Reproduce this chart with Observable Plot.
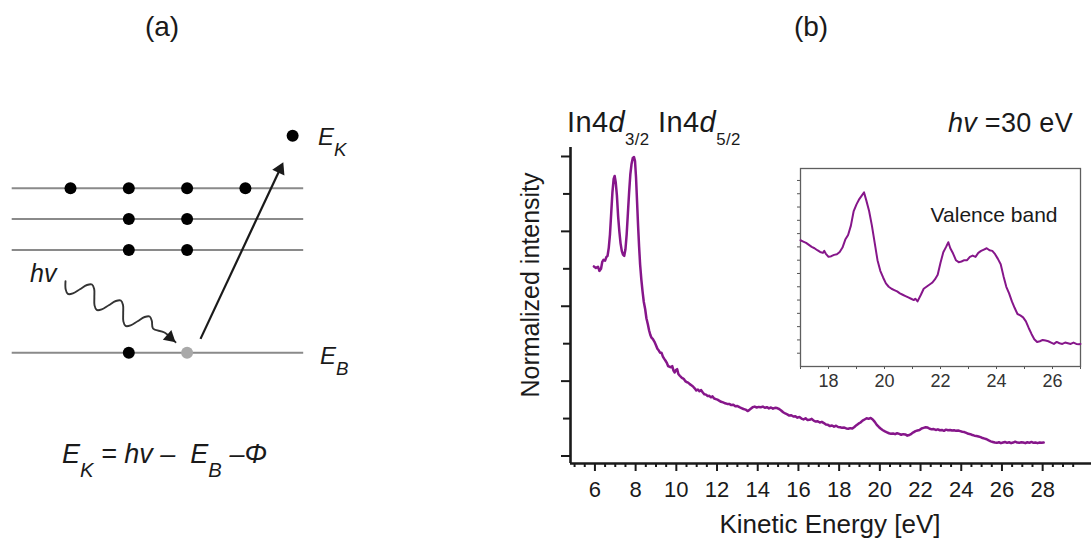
<!DOCTYPE html>
<html>
<head>
<meta charset="utf-8">
<script src="https://cdn.jsdelivr.net/npm/d3@7"></script>
<script src="https://cdn.jsdelivr.net/npm/@observablehq/plot@0.6"></script>
<style>
  html, body { margin: 0; padding: 0; background: #fff; }
  #fig { position: relative; width: 1091px; height: 540px; overflow: hidden;
         font-family: "Liberation Sans", Arial, sans-serif; color: #1a1a1a; }
  #fig svg { position: absolute; overflow: visible; }
  .lbl { position: absolute; white-space: nowrap; line-height: 1; }
  .sub { position: relative; }
</style>
</head>
<body>
<div id="fig"></div>
<script>
// ---------- Photoemission spectrum, hv = 30 eV (kinetic energy [eV], normalized intensity) ----------
const mainSpectrum = [
  [5.95,.633],[6.05,.628],[6.15,.632],[6.22,.618],[6.30,.625],[6.36,.648],[6.42,.655],[6.50,.652],
  [6.56,.664],[6.62,.668],[6.68,.695],[6.74,.740],[6.80,.810],[6.86,.880],[6.92,.925],[6.97,.935],
  [7.02,.915],[7.08,.870],[7.14,.800],[7.20,.750],[7.26,.710],[7.32,.685],[7.38,.672],[7.44,.668],
  [7.50,.690],[7.56,.740],[7.62,.810],[7.68,.880],[7.74,.940],[7.80,.975],[7.86,.995],[7.92,.998],
  [7.97,.985],[8.02,.930],[8.07,.850],[8.12,.770],[8.17,.700],[8.22,.640],[8.28,.590],[8.34,.550],
  [8.40,.515],[8.47,.490],[8.53,.460],[8.60,.440],[8.66,.420],[8.72,.405],[8.78,.395],[8.85,.390],
  [8.92,.382],[9.00,.370],[9.07,.358],[9.14,.352],[9.20,.345],[9.27,.345],[9.34,.332],[9.40,.325],
  [9.47,.318],[9.54,.310],[9.60,.300],[9.67,.298],[9.74,.296],[9.80,.300],[9.86,.285],[9.92,.279],
  [9.98,.287],[10.04,.290],[10.10,.274],[10.17,.268],[10.24,.263],[10.30,.260],[10.37,.257],[10.44,.250],
  [10.50,.247],[10.58,.245],[10.66,.240],[10.74,.236],[10.82,.232],[10.90,.226],[10.98,.219],[11.06,.222],
  [11.14,.216],[11.22,.220],[11.30,.212],[11.38,.206],[11.46,.205],[11.54,.200],[11.62,.201],[11.70,.196],
  [11.78,.199],[11.86,.192],[11.94,.190],[12.02,.188],[12.10,.185],[12.20,.181],[12.30,.179],[12.40,.176],
  [12.50,.174],[12.60,.174],[12.70,.170],[12.80,.171],[12.90,.166],[13.00,.167],[13.10,.163],[13.20,.160],
  [13.30,.157],[13.40,.155],[13.50,.150],[13.58,.153],[13.66,.158],[13.75,.163],[13.85,.165],[13.95,.162],
  [14.05,.164],[14.15,.163],[14.25,.165],[14.35,.161],[14.45,.163],[14.55,.159],[14.65,.162],[14.75,.158],
  [14.85,.161],[14.95,.160],[15.05,.157],[15.15,.152],[15.25,.146],[15.35,.142],[15.45,.139],[15.55,.135],
  [15.65,.136],[15.75,.132],[15.85,.133],[15.95,.128],[16.05,.130],[16.15,.125],[16.25,.122],[16.35,.126],
  [16.45,.120],[16.55,.121],[16.65,.124],[16.75,.118],[16.85,.115],[16.95,.116],[17.05,.112],[17.15,.114],
  [17.25,.110],[17.35,.105],[17.45,.104],[17.55,.100],[17.65,.102],[17.75,.098],[17.85,.101],[17.95,.097],
  [18.05,.096],[18.15,.094],[18.25,.095],[18.35,.092],[18.45,.091],[18.55,.093],[18.65,.092],[18.75,.097],
  [18.85,.103],[18.95,.108],[19.05,.112],[19.15,.118],[19.25,.122],[19.35,.126],[19.45,.124],[19.55,.127],
  [19.65,.122],[19.75,.114],[19.85,.104],[19.95,.097],[20.05,.091],[20.15,.086],[20.25,.082],[20.35,.079],
  [20.45,.076],[20.55,.074],[20.65,.075],[20.75,.073],[20.85,.076],[20.95,.074],[21.05,.071],[21.15,.073],
  [21.25,.072],[21.35,.068],[21.45,.070],[21.55,.074],[21.65,.079],[21.75,.083],[21.85,.085],[21.95,.087],
  [22.05,.092],[22.15,.094],[22.25,.096],[22.35,.095],[22.45,.091],[22.55,.089],[22.65,.090],[22.75,.087],
  [22.85,.089],[22.95,.086],[23.05,.087],[23.15,.084],[23.25,.088],[23.35,.086],[23.45,.087],[23.55,.085],
  [23.65,.086],[23.75,.084],[23.85,.085],[23.95,.083],[24.05,.081],[24.15,.080],[24.25,.077],[24.35,.074],
  [24.45,.073],[24.55,.070],[24.65,.068],[24.75,.067],[24.85,.065],[24.95,.063],[25.05,.060],[25.15,.058],
  [25.25,.056],[25.35,.052],[25.45,.049],[25.55,.047],[25.65,.045],[25.75,.044],[25.85,.046],[25.95,.043],
  [26.05,.045],[26.15,.047],[26.25,.044],[26.35,.046],[26.45,.043],[26.55,.045],[26.65,.048],[26.75,.045],
  [26.85,.044],[26.95,.046],[27.05,.045],[27.15,.043],[27.25,.046],[27.35,.044],[27.45,.047],[27.55,.044],
  [27.65,.045],[27.75,.043],[27.85,.045],[27.95,.044],[28.05,.045]
];

// ---------- Valence band detail (inset) ----------
const valenceSpectrum = [
  [17.00,.950],[17.10,.940],[17.20,.930],[17.30,.915],[17.40,.900],[17.50,.890],[17.60,.875],[17.70,.862],
  [17.80,.855],[17.85,.870],[17.90,.850],[18.00,.825],[18.10,.830],[18.20,.840],[18.30,.845],[18.40,.862],
  [18.50,.895],[18.60,.955],[18.70,.990],[18.80,1.060],[18.90,1.170],[19.00,1.220],[19.10,1.260],[19.20,1.290],
  [19.27,1.310],[19.35,1.250],[19.45,1.170],[19.55,1.060],[19.65,.930],[19.75,.800],[19.85,.720],[19.95,.670],
  [20.05,.625],[20.15,.600],[20.25,.585],[20.35,.575],[20.45,.565],[20.55,.550],[20.65,.540],[20.75,.530],
  [20.85,.520],[20.95,.510],[21.05,.500],[21.10,.510],[21.18,.490],[21.30,.540],[21.40,.585],[21.50,.600],
  [21.60,.615],[21.70,.630],[21.80,.655],[21.90,.690],[22.00,.780],[22.10,.860],[22.20,.900],[22.28,.935],
  [22.35,.890],[22.45,.850],[22.55,.800],[22.65,.785],[22.75,.790],[22.85,.800],[22.95,.800],[23.05,.825],
  [23.15,.835],[23.25,.825],[23.35,.855],[23.45,.870],[23.55,.880],[23.65,.890],[23.75,.875],[23.85,.870],
  [23.95,.845],[24.05,.810],[24.15,.770],[24.25,.680],[24.35,.600],[24.45,.550],[24.55,.490],[24.65,.440],
  [24.75,.395],[24.85,.385],[24.95,.370],[25.05,.340],[25.15,.290],[25.25,.245],[25.35,.205],[25.45,.185],
  [25.55,.190],[25.65,.200],[25.75,.195],[25.85,.190],[25.95,.180],[26.05,.170],[26.15,.185],[26.25,.175],
  [26.35,.170],[26.45,.180],[26.55,.175],[26.65,.170],[26.75,.180],[26.85,.170],[26.95,.168],[27.00,.170]
];

// axis ticks
const mainMajorX = [6, 8, 10, 12, 14, 16, 18, 20, 22, 24, 26, 28];
const mainMinorX = d3.range(5, 30.01, 0.5).filter(v => v % 2 !== 0);
const mainMajorY = [0, 0.25, 0.5, 0.75, 1];
const mainMinorY = [0.125, 0.375, 0.625, 0.875];
const insetTicksX = d3.range(17, 28);
const insetTicksY = d3.range(1, 15).map(k => k / 10);

// ---------- Energy-level scheme: shell energies (arbitrary units) and electron slots ----------
const shellLevels = [0, 3.32, 4.32, 5.31];           // core level E_B and three outer shells
const boundElectrons = [
  {slot: 1, level: 5.31}, {slot: 2, level: 5.31}, {slot: 3, level: 5.31}, {slot: 4, level: 5.31},
  {slot: 2, level: 4.32}, {slot: 3, level: 4.32},
  {slot: 2, level: 3.32}, {slot: 3, level: 3.32},
  {slot: 2, level: 0}
];
const coreHole = [{slot: 3, level: 0}];
const freeElectron = [{slot: 4.81, level: 7.0}];
const emission = [{slot: 3.23, level: 0.45}, {slot: 4.65, level: 6.15}];
// incoming photon, drawn as a wavy arrow ending at the core hole
const photonPath = [
  {slot: .9142, level: 2.3097}, {slot: .9173, level: 2.0458}, {slot: .9547, level: 1.8987}, {slot: 1.0410, level: 1.9168},
  {slot: 1.1616, level: 2.0516}, {slot: 1.2823, level: 2.1865}, {slot: 1.3684, level: 2.2045}, {slot: 1.4060, level: 2.0574},
  {slot: 1.4089, level: 1.7935}, {slot: 1.4120, level: 1.5297}, {slot: 1.4494, level: 1.3826}, {slot: 1.5357, level: 1.4006},
  {slot: 1.6563, level: 1.5355}, {slot: 1.7770, level: 1.6703}, {slot: 1.8631, level: 1.6884}, {slot: 1.9007, level: 1.5413},
  {slot: 1.9036, level: 1.2774}, {slot: 1.9067, level: 1.0135}, {slot: 1.9441, level: .8665}, {slot: 2.0304, level: .8845},
  {slot: 2.1509, level: 1.0194}, {slot: 2.2717, level: 1.1542}, {slot: 2.3580, level: 1.1723}, {slot: 2.3954, level: 1.0252},
  {slot: 2.4151, level: .7839}, {slot: 2.6123, level: .6548}, {slot: 2.8010, level: .3419}
];

const purple = "#86168a";
const font = "'Liberation Sans', Arial, sans-serif";
const fig = document.getElementById("fig");

function place(node, left, top) {
  node.style.left = left + "px";
  node.style.top = top + "px";
  fig.appendChild(node);
}

// HTML label, positioned by its baseline
function label(html, {x, baseline, size, anchor = "start", italic = false, color = "#1a1a1a", spacing = 0}) {
  const d = document.createElement("div");
  d.className = "lbl";
  d.innerHTML = html;
  d.style.fontSize = size + "px";
  d.style.color = color;
  if (spacing) d.style.letterSpacing = spacing + "px";
  if (italic) d.style.fontStyle = "italic";
  if (anchor === "middle") d.style.transform = "translateX(-50%)";
  if (anchor === "end") d.style.transform = "translateX(-100%)";
  place(d, x, baseline - 0.847 * size);
  return d;
}
const sub = (t, size = 0.75, drop = 0.62) =>
  `<span class="sub" style="font-size:${size}em;top:${drop}em">${t}</span>`;

// ---------- Panel (a): photoemission scheme ----------
const schemeX = [-0.2007, 6.1458];
const schemeY = [-6.055, 11.365];
const Wa = 370, Ha = 540;
const pxPerSlot = Wa / (schemeX[1] - schemeX[0]);
const pxPerLevel = Ha / (schemeY[1] - schemeY[0]);

// filled triangular arrowhead sitting at the end of segment p→q
function arrowHead(p, q, r) {
  const dx = (q.slot - p.slot) * pxPerSlot;
  const dy = -(q.level - p.level) * pxPerLevel;
  const L = Math.hypot(dx, dy), ux = dx / L, uy = dy / L;
  const back = 2 * Math.sqrt(Math.PI * r * r / (3 * Math.sqrt(3)));
  return {
    slot: q.slot - ux * back / pxPerSlot,
    level: q.level + uy * back / pxPerLevel,
    rotate: Math.atan2(ux, -uy) * 180 / Math.PI
  };
}
const emissionHead = arrowHead(emission[0], emission[1], 5);
const photonHead = arrowHead(photonPath[photonPath.length - 2], photonPath[photonPath.length - 1], 4.8);

const panelA = Plot.plot({
  width: Wa, height: Ha, margin: 0,
  x: {domain: schemeX, axis: null},
  y: {domain: schemeY, axis: null},
  style: {background: "transparent", fontFamily: font},
  marks: [
    Plot.ruleY(shellLevels, {y: d => d, x1: () => 0, x2: () => 5, stroke: "#8a8a8a", strokeWidth: 2}),
    Plot.line(photonPath, {x: "slot", y: "level", curve: "catmull-rom", stroke: "#333", strokeWidth: 1.9}),
    Plot.dot([photonHead], {x: "slot", y: "level", rotate: "rotate", symbol: "triangle", r: 4.8, fill: "#1a1a1a"}),
    Plot.link([{a: emission[0], b: emissionHead}], {
      x1: d => d.a.slot, y1: d => d.a.level, x2: d => d.b.slot, y2: d => d.b.level,
      stroke: "#1a1a1a", strokeWidth: 2.2
    }),
    Plot.dot([emissionHead], {x: "slot", y: "level", rotate: "rotate", symbol: "triangle", r: 5, fill: "#1a1a1a"}),
    Plot.dot(boundElectrons, {x: "slot", y: "level", r: 6, fill: "#000"}),
    Plot.dot(coreHole, {x: "slot", y: "level", r: 6, fill: "#a9a9a9"}),
    Plot.dot(freeElectron, {x: "slot", y: "level", r: 6, fill: "#000"})
  ]
});
place(panelA, 0, 0);

// ---------- Panel (b): spectrum ----------
const xDomain = [4.8, 30.4];
const yDomain = [-0.025, 1.03];
const panelB = Plot.plot({
  width: 651, height: 540,
  marginLeft: 130, marginRight: 0, marginTop: 147, marginBottom: 77,
  x: {domain: xDomain},
  y: {domain: yDomain},
  style: {background: "transparent", fontFamily: font, fontSize: "22px", color: "#1a1a1a"},
  marks: [
    Plot.axisX({ticks: mainMinorX, tickSize: 4, tickFormat: () => "", strokeWidth: 2, label: null}),
    Plot.axisX({ticks: mainMajorX, tickSize: 8, tickPadding: 10, strokeWidth: 2, label: null, tickFormat: d => String(d)}),
    Plot.axisY({ticks: mainMinorY, tickSize: 7, tickFormat: () => "", strokeWidth: 2, label: null}),
    Plot.axisY({ticks: mainMajorY, tickSize: 9, tickFormat: () => "", strokeWidth: 2, label: null}),
    Plot.ruleX([xDomain[0]], {strokeWidth: 2.6}),
    Plot.ruleY([yDomain[0]], {strokeWidth: 2.6}),
    Plot.line(mainSpectrum, {x: d => d[0], y: d => d[1], stroke: purple, strokeWidth: 2.5, strokeLinejoin: "round"})
  ]
});
place(panelB, 440, 0);

// ---------- Inset: valence band ----------
const inset = Plot.plot({
  width: 320, height: 250,
  marginLeft: 30, marginRight: 10, marginTop: 18, marginBottom: 34,
  x: {domain: [17, 27]},
  y: {domain: [0, 1.49]},
  style: {background: "transparent", fontFamily: font, fontSize: "18px", color: "#333"},
  marks: [
    Plot.axisX({ticks: insetTicksX, tickSize: 3, tickPadding: 5, label: null, stroke: "#555",
                tickFormat: d => (d % 2 === 0 ? String(d) : "")}),
    Plot.axisY({ticks: insetTicksY, tickSize: 3, tickFormat: () => "", label: null, stroke: "#555"}),
    Plot.frame({stroke: "#5e5e5e", strokeWidth: 1.3}),
    Plot.line(valenceSpectrum, {x: d => d[0], y: d => d[1], stroke: purple, strokeWidth: 2, strokeLinejoin: "round"}),
    Plot.text(["Valence band"], {frameAnchor: "top-right", text: d => d, dx: -23, dy: 39,
                                 fontSize: 21, textAnchor: "end", fill: "#1a1a1a"})
  ]
});
place(inset, 770, 150);

// ---------- Text ----------
label("(a)", {x: 162, baseline: 37, size: 28, anchor: "middle"});
label("(b)", {x: 811, baseline: 37, size: 28, anchor: "middle"});

label(`E${sub("K", 0.78, 0.6)}`, {x: 318, baseline: 145, size: 24, italic: true});
label(`E${sub("B", 0.78, 0.6)}`, {x: 320, baseline: 364, size: 24, italic: true});
label("hv", {x: 30, baseline: 282, size: 25, italic: true});
label(`E${sub("K", 0.75, 0.7)} = hv –&nbsp; E${sub("B", 0.75, 0.7)} –Φ`, {x: 62, baseline: 464, size: 27, italic: true});

label(`In4<i>d</i>${sub("3/2", 0.58, 0.75)} In4<i>d</i>${sub("5/2", 0.58, 0.75)}`, {x: 567, baseline: 133, size: 29, spacing: 0.4});
label(`<i>hv</i> =30 eV`, {x: 1073, baseline: 133, size: 27, anchor: "end", spacing: 0.3});

label("Kinetic Energy [eV]", {x: 830, baseline: 533, size: 26, anchor: "middle"});
const yl = label("Normalized intensity", {x: 530, baseline: 0, size: 25});
yl.style.top = "285px";
yl.style.transform = "translate(-50%, -50%) rotate(-90deg)";
</script>
</body>
</html>
